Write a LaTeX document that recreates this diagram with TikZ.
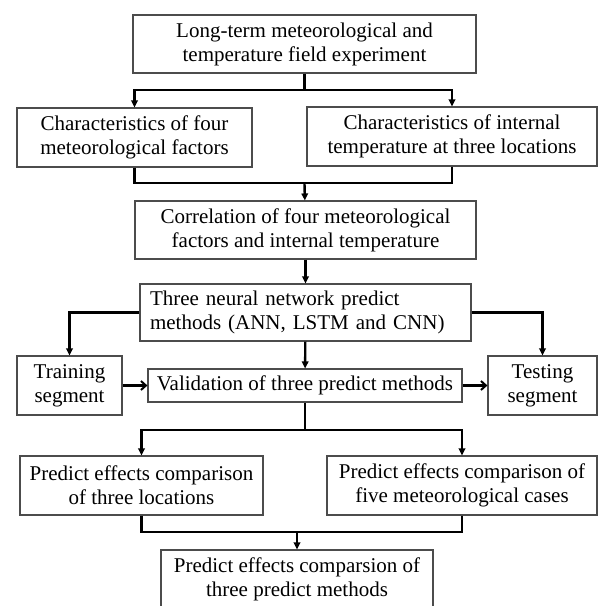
\documentclass[tikz,border=0pt]{standalone}
\usepackage{fontspec}
\setmainfont{Liberation Serif}
\usetikzlibrary{arrows.meta}
\begin{document}
\begin{tikzpicture}[x=1pt,y=-1pt,
  stepbox/.style={draw=black!70, line width=1.1pt, fill=white, inner sep=0pt,
    align=center, font=\fontsize{21}{24}\selectfont},
  link/.style={line width=2.4pt, black},
  arr/.style={link, -{Triangle[length=7pt,width=6.5pt]}},
  sidearr/.style={link, -{Straight Barb[length=5pt,width=9pt,line width=2pt]}}]
\clip (0,0) rectangle (598,606);
\useasboundingbox (0,0) rectangle (598,606);

% boxes
\node[stepbox, minimum width=343pt, minimum height=58pt] (top) at (304.5,44)
  {Long-term meteorological and\\temperature field experiment};
\node[stepbox, minimum width=235pt, minimum height=59pt] (four) at (134.5,137.5)
  {Characteristics of four\\meteorological factors};
\node[stepbox, minimum width=290pt, minimum height=59pt] (inner) at (452,136.5)
  {Characteristics of internal\\temperature at three locations};
\node[stepbox, minimum width=341pt, minimum height=58pt] (corr) at (305.5,230)
  {Correlation of four meteorological\\factors and internal temperature};
\node[stepbox, minimum width=331pt, minimum height=57pt, align=left,
  text width=311pt] (nn) at (305.5,312.5)
  {Three neural network predict\\methods (ANN, LSTM and CNN)};
\node[stepbox, minimum width=105pt, minimum height=59pt] (train) at (69.5,385.5)
  {Training\\segment};
\node[stepbox, minimum width=314pt, minimum height=33pt] (valid) at (305,385.5)
  {Validation of three predict methods};
\node[stepbox, minimum width=109pt, minimum height=59pt] (test) at (542.5,385.5)
  {Testing\\segment};
\node[stepbox, minimum width=243pt, minimum height=59pt] (loc) at (141.5,485.5)
  {Predict effects comparison\\of three locations};
\node[stepbox, minimum width=270pt, minimum height=59pt] (cases) at (462,485.5)
  {Predict effects comparison of\\five meteorological cases};
\node[stepbox, minimum width=272pt, minimum height=58pt] (methods) at (297,579)
  {Predict effects comparsion of\\three predict methods};

% junction points
\coordinate (j1) at (304.5,90);
\coordinate (j2) at (304.5,183);
\coordinate (j3) at (305,430);
\coordinate (j4) at (297,532);

% connectors
\draw[link] (top) -- (j1);
\draw[arr] (j1) -| (four);
\draw[arr] (j1) -| (inner);
\draw[link] (four) |- (j2);
\draw[link] (inner) |- (j2);
\draw[arr] (j2) -- (corr);
\draw[arr] (corr) -- (nn);
\draw[arr] (nn.west) -| (train);
\draw[arr] (nn.east) -| (test);
\draw[arr] (nn) -- (valid);
\draw[sidearr] (train) -- (valid);
\draw[sidearr] (valid) -- (test);
\draw[link] (valid) -- (j3);
\draw[arr] (j3) -| (loc);
\draw[arr] (j3) -| (cases);
\draw[link] (loc) |- (j4);
\draw[link] (cases) |- (j4);
\draw[arr] (j4) -- (methods);
\end{tikzpicture}
\end{document}
